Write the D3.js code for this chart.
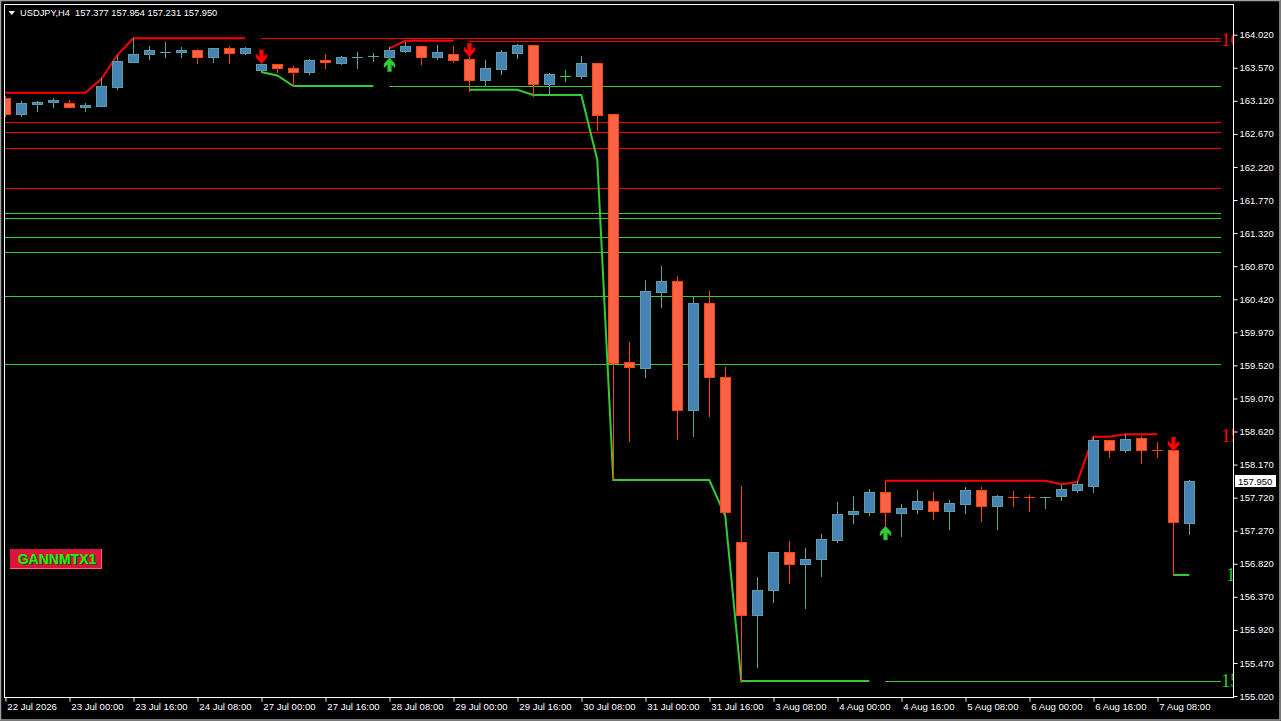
<!DOCTYPE html>
<html><head><meta charset="utf-8">
<script src="https://cdn.jsdelivr.net/npm/d3@7"></script>
<style>
html,body{margin:0;padding:0;background:#000;overflow:hidden}
svg{display:block}
text{font-family:"Liberation Sans",Arial,sans-serif}
</style></head>
<body><svg id="c" width="1281" height="721"></svg>
<script>
// ---- DATA ----
const symbolTitle = "USDJPY,H4";
const opens = [163.163,162.937,163.081,163.100,163.086,163.040,163.054,163.312,163.652,163.753,
163.780,163.788,163.808,163.712,163.835,163.767,163.543,163.617,163.562,163.508,
163.675,163.631,163.707,163.726,163.720,163.802,163.862,163.720,163.757,163.685,
163.407,163.557,163.775,163.876,163.353,163.462,163.462,163.635,162.937,159.562,
159.488,160.522,160.664,158.916,160.365,159.357,157.112,156.118,156.459,156.976,
156.812,156.881,157.147,157.493,157.528,157.792,157.515,157.569,157.674,157.542,
157.637,157.824,157.610,157.728,157.724,157.728,157.738,157.828,157.882,158.500,
158.364,158.527,158.364,158.364,157.377];
const highs = [163.186,163.118,163.122,163.158,163.131,163.086,163.426,163.743,163.971,163.866,
163.920,163.857,163.829,163.839,163.866,163.852,163.652,163.628,163.590,163.685,
163.753,163.730,163.780,163.775,163.857,163.925,163.866,163.880,163.866,163.743,
163.671,163.812,163.897,163.886,163.499,163.540,163.730,163.635,162.941,159.838,
160.682,160.872,160.736,160.454,160.532,159.497,157.878,156.640,156.980,157.130,
157.030,157.225,157.660,157.742,157.837,157.946,157.633,157.824,157.796,157.688,
157.865,157.865,157.756,157.810,157.756,157.730,157.888,157.942,158.541,158.511,
158.582,158.559,158.473,158.382,157.954];
const lows = [162.914,162.918,162.986,163.036,163.032,162.981,163.049,163.277,163.652,163.693,
163.720,163.712,163.631,163.652,163.631,163.761,163.512,163.508,163.322,163.485,
163.571,163.621,163.562,163.666,163.720,163.788,163.621,163.689,163.648,163.258,
163.322,163.485,163.703,163.190,163.199,163.390,163.431,162.723,157.973,158.495,
159.366,160.318,158.522,158.563,158.835,157.497,155.215,155.419,156.303,156.562,
156.222,156.657,157.120,157.379,157.488,157.347,157.202,157.515,157.429,157.297,
157.515,157.402,157.293,157.610,157.542,157.583,157.692,157.800,157.800,158.277,
158.337,158.195,158.277,156.667,157.231];
const closes = [162.937,163.086,163.104,163.135,163.040,163.059,163.318,163.658,163.753,163.812,
163.788,163.808,163.712,163.835,163.767,163.835,163.617,163.562,163.508,163.675,
163.644,163.712,163.720,163.730,163.812,163.862,163.720,163.784,163.675,163.407,
163.567,163.784,163.876,163.353,163.485,163.462,163.635,162.931,159.556,159.502,
160.528,160.664,158.916,160.365,159.357,157.528,156.118,156.459,156.976,156.812,
156.881,157.153,157.493,157.534,157.792,157.520,157.579,157.674,157.542,157.647,
157.824,157.610,157.738,157.724,157.720,157.730,157.833,157.901,158.500,158.372,
158.514,158.364,158.360,157.384,157.950];

// indicator step lines (per bar, null = not drawn)
const N = null;
const upperLine = [163.230,163.230,163.230,163.230,163.230,163.230,163.417,163.743,163.971,163.971,
163.971,163.971,163.971,163.971,163.971,163.971,N,N,N,N,
N,N,N,N,163.835,163.938,163.938,163.938,163.938,N,
N,N,N,N,N,N,N,N,N,N,
N,N,N,N,N,N,N,N,N,N,
N,N,N,N,N,157.950,157.950,157.950,157.950,157.950,
157.950,157.950,157.950,157.950,157.950,157.950,157.901,157.932,158.549,158.549,
158.582,158.582,158.582,N,N];
const lowerLine = [N,N,N,N,N,N,N,N,N,N,
N,N,N,N,N,N,163.512,163.465,163.322,163.322,
163.322,163.322,163.322,163.322,N,N,N,N,N,163.271,
163.271,163.271,163.271,163.199,163.199,163.199,163.199,162.315,157.960,157.960,
157.960,157.960,157.960,157.960,157.960,157.470,155.224,155.224,155.224,155.224,
155.224,155.224,155.224,155.224,155.224,N,N,N,N,N,
N,N,N,N,N,N,N,N,N,N,
N,N,N,156.667,156.667];

// horizontal levels: [price, first bar (-1 = before chart)]
const redLevels = [[163.974,16],[163.928,29],[162.828,-1],[162.692,-1],[162.474,-1],[161.930,-1]];
const greenLevels = [[163.318,24],[161.589,-1],[161.521,-1],[161.263,-1],[161.059,-1],[160.464,-1],[159.534,-1],[155.220,55]];
// level labels, as far as they show before the chart's right edge cuts them
const redLevelLabels = [[163.948,"16"],[158.560,"15"]];
const greenLevelLabels = [[156.667,"1"],[155.220,"15"]];

// signal arrows (bar indices)
const sellArrows = [16,29,73];
const buyArrows = [24,55];

// axis labels
const priceTicks = [164.020,163.570,163.120,162.670,162.220,161.770,161.320,160.870,160.420,159.970,
159.520,159.070,158.620,158.170,157.720,157.270,156.820,156.370,155.920,155.470,155.020];
const timeTickBars = [0,4,8,12,16,20,24,28,32,36,40,44,48,52,56,60,64,68,72];
const timeTickLabels = ["22 Jul 2026","23 Jul 00:00","23 Jul 16:00","24 Jul 08:00","27 Jul 00:00","27 Jul 16:00",
"28 Jul 08:00","29 Jul 00:00","29 Jul 16:00","30 Jul 08:00","31 Jul 00:00","31 Jul 16:00","3 Aug 08:00",
"4 Aug 00:00","4 Aug 16:00","5 Aug 08:00","6 Aug 00:00","6 Aug 16:00","7 Aug 08:00"];
const indicatorName = "GANNMTX1";

// ---- DRAW ----
const svg = d3.select("#c");
const PL=5, PT=5, PR=1233, PB=697;
const x = d3.scaleLinear().domain([0,74]).range([5.3,1189.3]);
const y = d3.scaleLinear().domain([155.007,164.438]).range([697,4]);

const BULL_FILL="#4682B4", BULL_LINE="#5F9EA0", BEAR_FILL="#FF6347", BEAR_LINE="#FF4500", DOJI="#32CD32";
const RED="#FF0000", GREEN="#32CD32";

svg.append("rect").attr("width",1281).attr("height",721).attr("fill","#000");
svg.append("defs").append("clipPath").attr("id","clip")
  .append("rect").attr("x",PL).attr("y",PT).attr("width",PR-PL).attr("height",PB-PT);

const g = svg.append("g").attr("clip-path","url(#clip)");

// level lines
function levels(arr,color){
  g.selectAll(null).data(arr).enter().append("line")
    .attr("x1",d=>d[1]<0?PL:Math.round(x(d[1])))
    .attr("x2",Math.round(x(76)))
    .attr("y1",d=>Math.round(y(d[0]))+0.5).attr("y2",d=>Math.round(y(d[0]))+0.5)
    .attr("stroke",color).attr("stroke-width",1).attr("shape-rendering","crispEdges");
}
levels(redLevels,RED); levels(greenLevels,GREEN);

// indicator lines
const ln = d3.line().defined(d=>d.v!=null).x(d=>x(d.i)).y(d=>y(d.v));
g.append("path").attr("d",ln(upperLine.map((v,i)=>({v,i})))).attr("fill","none").attr("stroke",RED).attr("stroke-width",2);
g.append("path").attr("d",ln(lowerLine.map((v,i)=>({v,i})))).attr("fill","none").attr("stroke",GREEN).attr("stroke-width",2);

// candles
const idx = d3.range(opens.length);
idx.forEach(i=>{
  const o=opens[i],c=closes[i],h=highs[i],l=lows[i];
  const bull=c>o, doji=c===o;
  const lineC = doji?DOJI:(bull?BULL_LINE:BEAR_LINE);
  const fillC = bull?BULL_FILL:BEAR_FILL;
  const cx = Math.round(x(i));
  g.append("line").attr("x1",cx+0.5).attr("x2",cx+0.5)
    .attr("y1",Math.round(y(h))).attr("y2",Math.round(y(l))+1)
    .attr("stroke",lineC).attr("stroke-width",1);
  const top=Math.round(y(Math.max(o,c))), bot=Math.round(y(Math.min(o,c)));
  if(bot-top<2){
    g.append("line").attr("x1",cx-5).attr("x2",cx+6)
      .attr("y1",top+0.5).attr("y2",top+0.5).attr("stroke",lineC).attr("stroke-width",1);
  } else {
    g.append("rect").attr("x",cx-5+0.5).attr("y",top+0.5).attr("width",10).attr("height",bot-top)
      .attr("fill",fillC).attr("stroke",lineC).attr("stroke-width",1);
  }
});

// arrows
const downArrow="M-2,-14H2V-7L5.5,-10V-6L0,0L-5.5,-6V-10L-2,-7Z";
g.selectAll(null).data(sellArrows).enter().append("path")
  .attr("d",downArrow)
  .attr("transform",i=>`translate(${Math.round(x(i))+0.5},${y(highs[i])+2})`)
  .attr("fill",RED).attr("stroke","#b00000").attr("stroke-width",0.6);
g.selectAll(null).data(buyArrows).enter().append("path")
  .attr("d",downArrow)
  .attr("transform",i=>`translate(${Math.round(x(i))+0.5},${y(lows[i])+1}) scale(1,-1)`)
  .attr("fill",GREEN).attr("stroke","#1e8a1e").attr("stroke-width",0.6);

// level labels (clipped by plot frame)
function lvlLabels(arr,color,dxs){
  g.selectAll(null).data(arr).enter().append("text")
    .attr("x",(d,k)=>x(76)+dxs[k]).attr("y",d=>y(d[0]))
    .attr("dominant-baseline","central")
    .attr("fill",color).style("font-family","'Liberation Serif','Times New Roman',serif")
    .style("font-size","18px").text(d=>d[1]);
}
lvlLabels(redLevelLabels,RED,[0,0]);
lvlLabels(greenLevelLabels,GREEN,[5,0]);

// indicator name badge
const bx=10, by=549;
svg.append("rect").attr("x",bx).attr("y",by).attr("width",92).attr("height",20).attr("fill","#DC143C");
svg.append("path").attr("d",`M${bx+91.5},${by}V${by+19.5}H${bx}`).attr("fill","none").attr("stroke","#ff6080").attr("stroke-width",1);
svg.append("text").attr("x",bx+47).attr("y",by+15).attr("text-anchor","middle")
  .attr("fill","#0a5a00").style("font-size","14px").style("font-weight","bold").text(indicatorName)
  .attr("transform","translate(1,1)");
svg.append("text").attr("x",bx+47).attr("y",by+15).attr("text-anchor","middle")
  .attr("fill","#22ee00").style("font-size","14px").style("font-weight","bold").text(indicatorName);

// frame
svg.append("rect").attr("x",4.5).attr("y",4.5).attr("width",PR-4).attr("height",PB-4)
  .attr("fill","none").attr("stroke","#fff").attr("stroke-width",1);
svg.append("rect").attr("x",0.5).attr("y",0.5).attr("width",1279.5).attr("height",719.5)
  .attr("fill","none").attr("stroke","#a0a0a0").attr("stroke-width",1.5);

// price axis
const yAxis = d3.axisRight(y).tickValues(priceTicks).tickSize(4).tickPadding(2).tickFormat(d3.format(".3f"));
const ya = svg.append("g").attr("transform",`translate(${PR+0.5},0)`).call(yAxis);
ya.select(".domain").remove();
ya.selectAll("line").attr("stroke","#fff");
ya.selectAll("text").attr("fill","#fff").style("font-size","9.5px").style("font-family","'Liberation Sans',Arial,sans-serif");

// time axis
const xAxis = d3.axisBottom(d3.scaleLinear().domain(x.domain()).range(x.range()))
  .tickValues(timeTickBars).tickSize(4).tickFormat((d,k)=>timeTickLabels[k]);
const xa = svg.append("g").attr("transform",`translate(0.5,${PB+0.5})`).call(xAxis);
xa.select(".domain").remove();
xa.selectAll("line").attr("stroke","#fff").attr("transform",d=>`translate(${Math.round(x(d))-x(d)},0)`);
xa.selectAll("text").attr("fill","#fff").attr("text-anchor","start").attr("dx",1).attr("dy","0.55em")
  .style("font-size","9.6px").style("font-family","'Liberation Sans',Arial,sans-serif");

// current price tag
const last = closes[closes.length-1];
const ly = Math.round(y(last));
svg.append("rect").attr("x",1235).attr("y",ly-6).attr("width",41).attr("height",12).attr("fill","#fff");
svg.append("text").attr("x",1238).attr("y",ly).attr("dominant-baseline","central").attr("fill","#000")
  .style("font-size","9.5px").text(d3.format(".3f")(last));

// title
const n=opens.length-1;
svg.append("path").attr("d","M8.5,11H15L11.75,15Z").attr("fill","#fff");
svg.append("text").attr("x",20).attr("y",16).attr("fill","#fff").style("font-size","9.3px")
  .attr("xml:space","preserve")
  .text(`${symbolTitle}  ${d3.format(".3f")(opens[n])} ${d3.format(".3f")(highs[n])} ${d3.format(".3f")(lows[n])} ${d3.format(".3f")(closes[n])}`);
</script></body></html>
